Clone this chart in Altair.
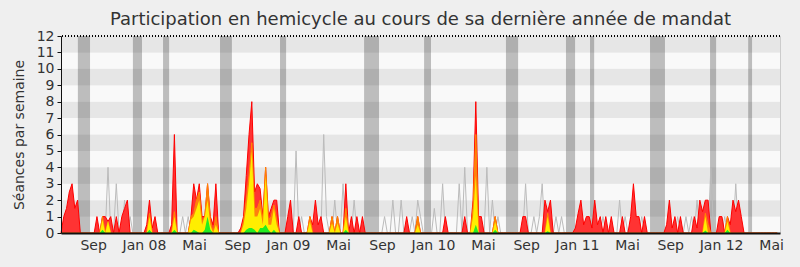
import altair as alt
import pandas as pd

N_WEEKS = 260

# Séances per week (sparse: week index -> value; other weeks are 0)
red_weeks = [1, 2, 3, 4, 5, 6,
             13, 15, 16, 17, 18, 20, 22, 23, 24,
             31, 32, 33, 34, 40, 41,
             47, 48, 49, 50, 51, 52, 53, 54, 55, 56,
             65, 66, 67, 68, 69, 70, 71, 72, 73, 74, 75, 76, 77, 78,
             82, 83, 86, 90, 91, 92, 93, 94, 98, 100, 103, 105, 107, 109,
             125, 129, 139, 146, 149, 150, 151, 152, 157,
             167, 168, 175, 176, 177,
             186, 187, 188, 189, 190, 191, 192, 193, 194, 195, 197, 199, 203, 206, 207, 208, 209, 211,
             219, 220, 221, 222, 224, 229, 230, 231, 232, 233, 234,
             238, 239, 241, 242, 243, 244, 245, 246]
red_vals = [1, 1.5, 2.5, 3, 1.5, 2,
            1, 1, 1, 0.7, 1, 1, 1, 1.5, 2,
            0.5, 2, 0.3, 1, 0.5, 6,
            1, 3, 2, 3, 1, 1, 3, 1, 0.5, 3,
            0.3, 1, 3.5, 6, 8, 2.5, 3, 2.7, 1, 4, 1, 1.5, 2, 2,
            1, 2, 1, 1, 0.5, 2, 0.5, 1, 1, 1, 3, 1, 1, 1,
            1, 1, 1, 1, 2, 8, 1, 1, 1,
            1, 1, 2, 1.3, 2,
            0.3, 1.2, 2, 0.5, 1, 1, 0.3, 2, 0.5, 1, 1, 1, 1, 1, 3, 1, 1, 1,
            0.5, 2, 0.3, 1, 1, 1, 0.3, 2, 1.3, 2, 2,
            1, 1, 1, 0.5, 2, 1.3, 2, 1]

orange_weeks = [15, 17, 32, 41,
                47, 48, 49, 50, 51, 52, 53, 54, 56,
                66, 67, 68, 69, 70, 71, 72, 73, 74, 75, 76, 77, 78,
                90, 98, 100, 103, 129, 149, 150, 157, 176, 233, 234, 241]
orange_vals = [1, 0.7, 1.2, 1.3,
               1, 1.2, 2, 2.5, 0.7, 1, 3, 0.8, 1,
               0.7, 2, 3.5, 5.5, 1.5, 1.5, 2, 0.8, 4, 0.8, 1, 1.7, 0.8,
               1, 1, 1, 1.5, 1, 1.5, 6, 1, 1.2, 1.2, 0.5, 1]

yellow_weeks = [15, 17, 32, 41,
                47, 48, 49, 50, 51, 52, 53, 54, 56,
                66, 67, 68, 69, 70, 71, 72, 73, 74, 75, 76, 77, 78,
                90, 98, 100, 103, 129, 149, 150, 157, 176, 233, 241]
yellow_vals = [0.8, 0.7, 1, 1,
               0.8, 1, 1.5, 2, 0.5, 1, 2, 0.5, 0.5,
               0.5, 1.5, 3, 5, 1, 1, 1.5, 0.5, 3.5, 0.5, 0.5, 1.5, 0.5,
               0.7, 0.6, 0.6, 1, 0.5, 1, 3.5, 0.7, 1, 1, 0.7]

green_weeks = [15, 32, 41, 48, 49, 52, 53, 54, 67, 68, 69, 70, 72, 73, 74, 75, 77,
               103, 150, 157, 176, 233, 241]
green_vals = [0.2, 0.2, 0.2, 0.2, 0.1, 0.2, 1, 0.2, 0.2, 0.3, 0.3, 0.2, 0.3, 0.3, 0.5, 0.2, 0.2,
              0.2, 0.5, 0.2, 0.1, 0.15, 0.2]

grey_weeks = [17, 20, 23, 25, 44, 46,
              85, 87, 95, 96, 99, 102, 106,
              117, 120, 123, 127, 129, 130,
              135, 138, 144, 146, 154, 156, 158,
              168, 171, 173, 174, 179, 181, 196, 202, 204, 208, 210,
              223, 226, 228, 230, 235, 240, 244]
grey_vals = [4, 3, 2, 1, 1, 1,
             5, 1, 6, 1, 2, 3, 2,
             1, 2, 2, 1, 2, 1,
             1.5, 3, 3, 4, 4, 2, 1,
             3, 1, 1, 3, 1, 1, 1, 2, 1, 1, 1,
             1, 1, 1, 2, 4, 1, 3]

# Parliamentary holidays (week ranges)
vac_start = [6.1, 26.0, 36.9, 57.5, 79.2, 109.6, 131.3, 160.9, 182.6, 191.3, 213.0, 234.7, 248.5]
vac_end = [10.5, 29.3, 39.1, 61.8, 81.4, 115.0, 133.8, 165.3, 185.9, 192.8, 218.4, 236.9, 249.9]

# x-axis month labels (week positions)
tick_pos = [11.6, 30.0, 48.1, 63.7, 82.1, 100.2, 116.1, 134.5, 152.6, 168.2, 186.6, 204.7, 220.3, 238.7, 256.8]
tick_lab = ["Sep", "Jan 08", "Mai", "Sep", "Jan 09", "Mai", "Sep", "Jan 10", "Mai",
            "Sep", "Jan 11", "Mai", "Sep", "Jan 12", "Mai"]
y_ticks = list(range(13))

band_lo = list(range(12))
band_hi = list(range(1, 13))
band_shade = ["light" if i % 2 == 0 else "dark" for i in range(12)]


def fill(weeks, vals):
    arr = [0.0] * N_WEEKS
    for w, v in zip(weeks, vals):
        arr[w] = v
    return arr


df = pd.DataFrame({
    "week": list(range(N_WEEKS)),
    "red": fill(red_weeks, red_vals),
    "orange": fill(orange_weeks, orange_vals),
    "yellow": fill(yellow_weeks, yellow_vals),
    "green": fill(green_weeks, green_vals),
    "grey": fill(grey_weeks, grey_vals),
})
bands = pd.DataFrame({"lo": band_lo, "hi": band_hi, "shade": band_shade})
vac = pd.DataFrame({"s": vac_start, "e": vac_end})

xscale = alt.Scale(domain=[0, 260], nice=False, zero=False)
yscale = alt.Scale(domain=[0, 12], nice=False, zero=True)

label_expr = "[" + ",".join("'%s'" % t for t in tick_lab) + "][indexof([" + ",".join(str(p) for p in tick_pos) + "], datum.value)]"

xaxis = alt.Axis(values=tick_pos, labelExpr=label_expr, ticks=False, grid=False,
                 labelFontSize=14, labelColor="#333333", labelPadding=5, labelFlush=False,
                 labelOverlap=False, domainColor="#111111", domainWidth=2, title=None,
                 labelFont="DejaVu Sans", zindex=1)
yaxis = alt.Axis(values=y_ticks, tickCount=13, tickSize=4, tickColor="#111111", grid=False,
                 labelFontSize=14, labelColor="#333333", labelPadding=3, domainColor="#111111",
                 labelOverlap=False, labelBound=False, labelFlush=False,
                 title="Séances par semaine", titleFontSize=14, titleFontWeight="normal",
                 titleColor="#333333", titlePadding=10, labelFont="DejaVu Sans", titleFont="DejaVu Sans",
                 zindex=1)


def X(field):
    return alt.X(field, type="quantitative", scale=xscale, axis=xaxis)


def Y(field):
    return alt.Y(field, type="quantitative", scale=yscale, axis=yaxis)


bg = alt.Chart(bands).mark_rect().encode(
    x=alt.datum(0, scale=xscale, axis=xaxis),
    x2=alt.datum(260),
    y=Y("lo"),
    y2="hi:Q",
    color=alt.Color("shade:N", scale=alt.Scale(domain=["light", "dark"], range=["#f9f9f9", "#e6e6e6"]), legend=None),
)

vac_layer = alt.Chart(vac).mark_rect(color="black", opacity=0.24).encode(
    x=X("s"),
    x2="e:Q",
    y=alt.datum(0, scale=yscale, axis=yaxis),
    y2=alt.datum(12),
)

base = alt.Chart(df)
grey_line = base.mark_line(color="#bbbbbb", strokeWidth=1).encode(x=X("week"), y=Y("grey"))
red_area = base.mark_area(color="#ff3333", opacity=1, line={"color": "#ff0000", "strokeWidth": 1}).encode(
    x=X("week"), y=Y("red"))
orange_area = base.mark_area(color="#ffa000", line={"color": "#ff8800", "strokeWidth": 1}).encode(
    x=X("week"), y=Y("orange"))
yellow_area = base.mark_area(color="#ffee00").encode(x=X("week"), y=Y("yellow"))
green_area = base.mark_area(color="#22ee22").encode(x=X("week"), y=Y("green"))

top_rule = alt.Chart(bands).mark_rule(color="black", strokeDash=[1, 2], strokeWidth=1).encode(
    y=alt.datum(12, scale=yscale, axis=yaxis))

chart = alt.layer(bg, vac_layer, grey_line, red_area, orange_area, yellow_area, green_area, top_rule).properties(
    width=719, height=197,
    title=alt.TitleParams(text="Participation en hemicycle au cours de sa dernière année de mandat",
                          fontSize=18, font="DejaVu Sans", fontWeight="normal", color="#333333",
                          anchor="middle", offset=0),
    autosize=alt.AutoSizeParams(type="none"),
    padding={"left": 61, "top": 36, "right": 20, "bottom": 34},
    background="#efefef",
).configure_view(stroke="#cccccc", strokeWidth=1).configure_axis(labelOverlap=False)

chart.save("out.html", embed_options={"renderer": "svg", "actions": False})
